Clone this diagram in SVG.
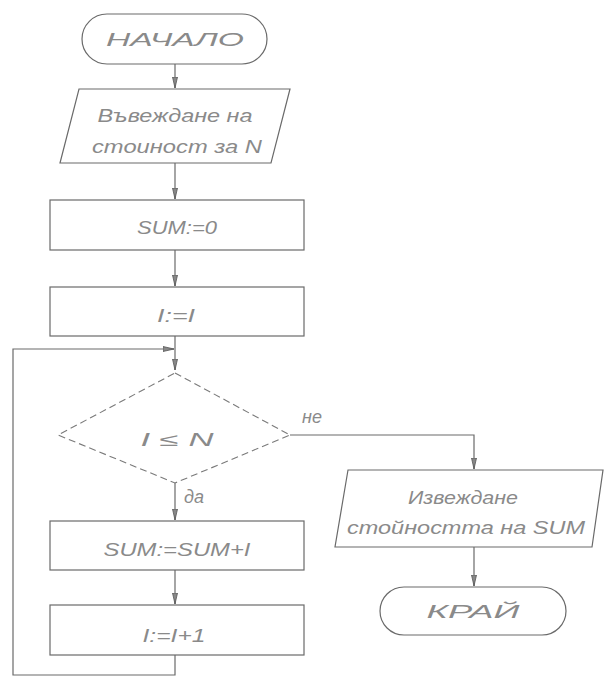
<svg xmlns="http://www.w3.org/2000/svg" width="605" height="680" viewBox="0 0 605 680">
<style>
.s{fill:#fff;stroke:#6a6a6a;stroke-width:1.2}
.d{fill:#fff;stroke:#7a7a7a;stroke-width:1.1;stroke-dasharray:7,4}
.c{fill:none;stroke:#6a6a6a;stroke-width:1.2}
.t{font-family:"Liberation Sans","DejaVu Sans",sans-serif;font-style:italic;fill:#8a8a8a;font-size:18px;text-anchor:middle;dominant-baseline:central}
</style>
<defs>
<marker id="a" markerWidth="12" markerHeight="6" refX="11" refY="3" orient="auto" markerUnits="userSpaceOnUse">
<path d="M0,0.5 L11,3 L0,5.5 Z" fill="#888" stroke="#555" stroke-width="0.8"/>
</marker>
</defs>
<g id="connectors">
<line class="c" x1="175" y1="64" x2="175" y2="88" marker-end="url(#a)"/>
<line class="c" x1="175" y1="163" x2="175" y2="199" marker-end="url(#a)"/>
<line class="c" x1="175" y1="250" x2="175" y2="286" marker-end="url(#a)"/>
<line class="c" x1="175" y1="336" x2="175" y2="370" marker-end="url(#a)"/>
<polyline class="c" points="175,655 175,675 13,675 13,349 174,349" marker-end="url(#a)"/>
<line class="c" x1="175" y1="483" x2="175" y2="520" marker-end="url(#a)"/>
<line class="c" x1="175" y1="570" x2="175" y2="604" marker-end="url(#a)"/>
<polyline class="c" points="290,435 474,435 474,469" marker-end="url(#a)"/>
<line class="c" x1="474" y1="547" x2="474" y2="586" marker-end="url(#a)"/>
</g>
<g id="start">
<rect class="s" x="82" y="14" width="185" height="50" rx="25"/>
<text class="t" x="175" y="40" font-size="23" textLength="138" lengthAdjust="spacingAndGlyphs">НАЧАЛО</text>
</g>
<g id="input">
<polygon class="s" points="79,89 290,89 271,163 60,163"/>
<text class="t" x="175" y="116" textLength="155" lengthAdjust="spacingAndGlyphs">Въвеждане на</text>
<text class="t" x="177" y="147" textLength="170" lengthAdjust="spacingAndGlyphs">стоиност за N</text>
</g>
<g id="sum0">
<rect class="s" x="50" y="200" width="254" height="50"/>
<text class="t" x="177" y="228" textLength="80" lengthAdjust="spacingAndGlyphs">SUM:=0</text>
</g>
<g id="i1">
<rect class="s" x="50" y="287" width="254" height="49"/>
<text class="t" x="176" y="316" textLength="38" lengthAdjust="spacingAndGlyphs">I:=I</text>
</g>
<g id="cond">
<polygon class="d" points="175,373 290,435 175,483 58,435"/>
<text class="t" x="177" y="440" textLength="73" lengthAdjust="spacingAndGlyphs">I  ≤  N</text>
<text class="t" x="194" y="497" font-size="16">да</text>
<text class="t" x="312" y="417" font-size="16">не</text>
</g>
<g id="sumadd">
<rect class="s" x="50" y="521" width="254" height="49"/>
<text class="t" x="177" y="550" textLength="147" lengthAdjust="spacingAndGlyphs">SUM:=SUM+I</text>
</g>
<g id="inc">
<rect class="s" x="50" y="605" width="254" height="50"/>
<text class="t" x="174" y="636" textLength="63" lengthAdjust="spacingAndGlyphs">I:=I+1</text>
</g>
<g id="output">
<polygon class="s" points="348,470 603,470 592,547 335,547"/>
<text class="t" x="463" y="498" textLength="110" lengthAdjust="spacingAndGlyphs">Извеждане</text>
<text class="t" x="466" y="528" textLength="238" lengthAdjust="spacingAndGlyphs">стойността на SUM</text>
</g>
<g id="end">
<rect class="s" x="380" y="587" width="186" height="48" rx="24"/>
<text class="t" x="473" y="612" font-size="23" textLength="93" lengthAdjust="spacingAndGlyphs">КРАЙ</text>
</g>
</svg>
